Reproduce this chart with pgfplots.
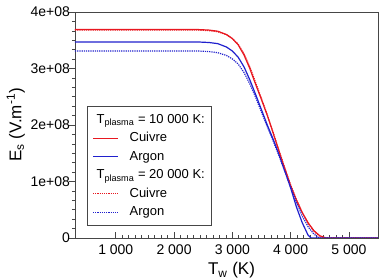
\documentclass[border=0pt]{standalone}
\usepackage{fontspec}
\setmainfont{Liberation Sans}
\usepackage{pgfplots}
\pgfplotsset{compat=1.18}

\definecolor{cuivre}{RGB}{232,24,32}
\definecolor{argon}{RGB}{32,32,205}
\definecolor{axisgray}{RGB}{70,70,70}

\tikzset{
  cuivre10/.style={color=cuivre, line width=1.2pt, solid},
  argon10/.style={color=argon, line width=1.2pt, solid},
  cuivre20/.style={color=cuivre, line width=1.2pt, dash pattern=on 1.2pt off 1pt},
  argon20/.style={color=argon, line width=1.2pt, dash pattern=on 1.2pt off 1pt},
}
% short legend sample: colour, dash on, dash off
\pgfplotsset{
  sample/.style n args={3}{legend image code/.code={%
    \pgfsetlinewidth{1.2pt}%
    \pgfsetstrokecolor{#1}%
    \pgfsetdash{{#2}{#3}}{0pt}%
    \pgfpathmoveto{\pgfpoint{0pt}{0pt}}%
    \pgfpathlineto{\pgfpoint{25pt}{0pt}}%
    \pgfusepath{stroke}}},
}

% Emission field E_s versus wall temperature T_w
\pgfplotstableread{
T E
300 3.69e8
2400 3.69e8
2600 3.68e8
2750 3.66e8
2900 3.60e8
3000 3.53e8
3100 3.42e8
3200 3.24e8
3300 3.00e8
3400 2.72e8
3500 2.45e8
3600 2.17e8
3700 1.86e8
3800 1.54e8
3900 1.23e8
4000 0.93e8
4100 0.67e8
4200 0.45e8
4300 0.27e8
4400 0.13e8
4500 0.04e8
4610 0
5500 0
}\cuivreA
\pgfplotstableread{
T E
300 3.47e8
2400 3.47e8
2600 3.46e8
2750 3.44e8
2900 3.38e8
3000 3.31e8
3100 3.20e8
3200 3.03e8
3300 2.80e8
3400 2.54e8
3500 2.27e8
3600 2.00e8
3700 1.75e8
3800 1.48e8
3900 1.19e8
4000 0.89e8
4100 0.55e8
4200 0.27e8
4300 0.05e8
4350 0
5500 0
}\argonA
\pgfplotstableread{
T E
300 3.68e8
2400 3.68e8
2600 3.67e8
2750 3.65e8
2900 3.60e8
3000 3.53e8
3100 3.43e8
3200 3.26e8
3300 3.03e8
3400 2.75e8
3500 2.47e8
3600 2.18e8
3700 1.87e8
3800 1.55e8
3900 1.24e8
4000 0.94e8
4100 0.68e8
4200 0.45e8
4300 0.26e8
4400 0.12e8
4500 0.03e8
4590 0
5500 0
}\cuivreB
\pgfplotstableread{
T E
300 3.31e8
2400 3.31e8
2600 3.30e8
2750 3.28e8
2900 3.23e8
3000 3.17e8
3100 3.08e8
3200 2.93e8
3300 2.73e8
3400 2.49e8
3500 2.23e8
3600 1.97e8
3700 1.72e8
3800 1.46e8
3900 1.18e8
4000 0.90e8
4100 0.63e8
4200 0.39e8
4300 0.20e8
4400 0.07e8
4490 0
5500 0
}\argonB

\begin{document}
\begin{tikzpicture}
\begin{axis}[
  at={(0pt,0pt)}, anchor=south west,
  scale only axis, width=303pt, height=226pt,
  xmin=300, xmax=5500, ymin=0, ymax=4e8,
  axis line style={axisgray, line width=0.7pt},
  every tick/.style={axisgray, line width=0.6pt},
  tick pos=left,
  xtick align=inside, ytick align=outside,
  major tick length=5.5pt, minor tick length=3pt,
  xtick={1000,2000,3000,4000,5000},
  xticklabels={1 000,2 000,3 000,4 000,5 000},
  ytick={0,1e8,2e8,3e8,4e8},
  yticklabels={0,1e+08,2e+08,3e+08,4e+08},
  scaled y ticks=false,
  minor x tick num=8, minor y tick num=5,
  tick label style={font=\fontsize{14}{16}\selectfont},
  xticklabel style={yshift=-3pt},
  yticklabel style={xshift=4pt},
  xlabel={T\textsubscript{w} (K)},
  ylabel={E\textsubscript{s} (V.m\textsuperscript{-1})},
  label style={font=\fontsize{17}{19}\selectfont},
  xlabel style={yshift=-1pt, xshift=5pt},
  ylabel style={yshift=-1pt},
  legend cell align=left,
  legend style={at={(0.04,0.053)}, anchor=south west,
    draw=axisgray, line width=0.6pt, fill=white,
    font=\fontsize{13}{16}\selectfont,
    inner xsep=5pt, inner ysep=5pt, row sep=1.5pt,
    /tikz/every odd column/.append style={column sep=10pt},
    nodes={inner sep=1pt, text height=11pt, text depth=4pt}},
]
% curves
\addplot[cuivre10, forget plot] table[x=T, y=E] {\cuivreA};
\addplot[argon10, forget plot] table[x=T, y=E] {\argonA};
\addplot[cuivre20, forget plot] table[x=T, y=E] {\cuivreB};
\addplot[argon20, forget plot] table[x=T, y=E] {\argonB};
% legend
\addlegendimage{empty legend}
\addlegendentry{\hspace*{-33pt}T\textsubscript{plasma} = 10 000 K:}
\addlegendimage{sample={cuivre}{25pt}{0pt}}
\addlegendentry{Cuivre}
\addlegendimage{sample={argon}{25pt}{0pt}}
\addlegendentry{Argon}
\addlegendimage{empty legend}
\addlegendentry{\hspace*{-33pt}T\textsubscript{plasma} = 20 000 K:}
\addlegendimage{sample={cuivre}{1.2pt}{1pt}}
\addlegendentry{Cuivre}
\addlegendimage{sample={argon}{1.2pt}{1pt}}
\addlegendentry{Argon}
\end{axis}
\pgfresetboundingbox
\path[use as bounding box] (-75pt,-42pt) rectangle (306pt,238pt);
\end{tikzpicture}
\end{document}
